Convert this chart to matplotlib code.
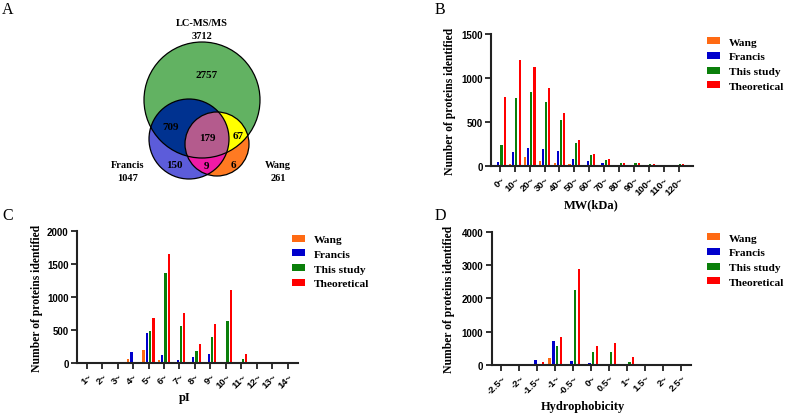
import numpy as np
import matplotlib
matplotlib.use("Agg")
from matplotlib import pyplot as plt
from matplotlib.patches import Circle, Polygon

# ---- data ----
names = ["Wang", "Francis", "This study", "Theoretical"]
colors = ["#FF6A13", "#0000CC", "#0A7F0A", "#FF0000"]

mw_labels = ["0~", "10~", "20~", "30~", "40~", "50~", "60~", "70~", "80~", "90~", "100~", "110~", "120~"]
mw_wang = [0, 30, 102, 60, 34, 26, 11, 0, 0, 0, 0, 0, 0]
mw_francis = [45, 158, 204, 200, 170, 83, 57, 32, 18, 14, 8, 0, 18]
mw_this = [241, 773, 837, 724, 520, 268, 128, 75, 40, 32, 25, 0, 30]
mw_theo = [785, 1203, 1128, 890, 604, 302, 140, 80, 40, 35, 25, 0, 30]

pi_labels = ["1~", "2~", "3~", "4~", "5~", "6~", "7~", "8~", "9~", "10~", "11~", "12~", "13~", "14~"]
pi_wang = [0, 0, 0, 65, 191, 45, 0, 0, 0, 0, 0, 0, 0, 0]
pi_francis = [0, 0, 0, 170, 457, 121, 50, 85, 141, 15, 0, 0, 0, 0]
pi_this = [0, 0, 0, 0, 487, 1357, 563, 186, 397, 638, 60, 0, 0, 0]
pi_theo = [0, 0, 0, 20, 678, 1658, 759, 291, 593, 1106, 136, 10, 0, 0]

hy_labels = ["-2.5~", "-2~", "-1.5~", "-1~", "-0.5~", "0~", "0.5~", "1~", "1.5~", "2~", "2.5~"]
hy_wang = [0, 0, 0, 190, 20, 0, 0, 0, 0, 0, 0]
hy_francis = [0, 0, 150, 700, 110, 40, 0, 0, 0, 0, 0]
hy_this = [0, 0, 20, 560, 2260, 370, 380, 80, 0, 0, 0]
hy_theo = [0, 0, 80, 840, 2870, 560, 640, 220, 0, 0, 0]

venn_counts = {"LC": 2757, "LC_F": 709, "all": 179, "LC_W": 67, "F": 150, "F_W": 9, "W": 6}
venn_totals = {"LC-MS/MS": 3712, "Francis": 1047, "Wang": 261}

SERIF = "Liberation Serif"
SANS = "Liberation Sans"
W, H = 787, 414

fig = plt.figure(figsize=(7.87, 4.14), dpi=100)

# overlay axes in pixel units (venn, panel letters, axis titles)
ov = fig.add_axes([0, 0, 1, 1])
ov.set_xlim(0, W)
ov.set_ylim(H, 0)
ov.axis("off")


def box(l, t, r, b):
    return [l / W, 1 - b / H, (r - l) / W, (b - t) / H]


# ---- venn ----
cg = (202, 101, 58)
cf = (189, 140, 40)
cw = (217, 145, 32)


def circ(c, **kw):
    return Circle((c[0], c[1]), c[2], **kw)


def inside(p, c):
    return np.hypot(p[:, 0] - c[0], p[:, 1] - c[1]) <= c[2] + 1e-6


def triple(cs):
    t = np.linspace(0, 2 * np.pi, 1440)
    pts = []
    for i, c in enumerate(cs):
        p = np.column_stack([c[0] + c[2] * np.cos(t), c[1] + c[2] * np.sin(t)])
        keep = np.ones(len(p), bool)
        for j, o in enumerate(cs):
            if j != i:
                keep &= inside(p, o)
        pts.append(p[keep])
    pts = np.vstack(pts)
    m = pts.mean(axis=0)
    ang = np.arctan2(pts[:, 1] - m[1], pts[:, 0] - m[0])
    return pts[np.argsort(ang)]


ov.add_patch(circ(cg, fc="#62B262", ec="none", zorder=1))
ov.add_patch(circ(cf, fc="#5C5CDA", ec="none", zorder=1))
ov.add_patch(circ(cw, fc="#FF7A22", ec="none", zorder=1))
p = circ(cf, fc="#F01AA6", ec="none", zorder=2)
ov.add_patch(p)
p.set_clip_path(circ(cw, transform=ov.transData))
p = circ(cf, fc="#003290", ec="none", zorder=3)
ov.add_patch(p)
p.set_clip_path(circ(cg, transform=ov.transData))
p = circ(cw, fc="#FFFF00", ec="none", zorder=3)
ov.add_patch(p)
p.set_clip_path(circ(cg, transform=ov.transData))
ov.add_patch(Polygon(triple([cg, cf, cw]), closed=True, fc="#B45B8D", ec="none", zorder=4))
for c in (cg, cf, cw):
    ov.add_patch(circ(c, fc="none", ec="black", lw=0.9, zorder=5))

num_pos = {"LC": (207, 76), "LC_F": (171, 128), "all": (207, 139), "LC_W": (238, 137),
           "F": (174, 166), "F_W": (207, 166.5), "W": (233, 166)}
for k, (x, y) in num_pos.items():
    ov.text(x, y, str(venn_counts[k]), family=SERIF, weight="bold", fontsize=8,
            ha="center", va="center", zorder=6)
tot_pos = {"LC-MS/MS": (202, 24), "Francis": (128, 166), "Wang": (278, 166)}
for k, (x, y) in tot_pos.items():
    ov.text(x, y, k, family=SERIF, weight="bold", fontsize=7.5, ha="center", va="center")
    ov.text(x, y + 12.5, str(venn_totals[k]), family=SERIF, weight="bold", fontsize=7.5,
            ha="center", va="center")

# panel letters
for lab, x, y in [("A", 8, 10), ("B", 440, 10), ("C", 8, 216), ("D", 440, 216)]:
    ov.text(x, y, lab, family=SERIF, fontsize=11.5, ha="center", va="center")


# ---- bar panels ----
def bar_panel(rect, labels, series, ymax, ystep, xlim, ylab_x, xlab, xlab_pos, leg_pos):
    ax = fig.add_axes(rect)
    x = np.arange(len(labels))
    pitch = 0.215
    for i, vals in enumerate(series):
        ax.bar(x + (i - 1.5) * pitch, vals, 0.145, color=colors[i], label=names[i], zorder=2)
    ax.set_xlim(*xlim)
    ax.set_ylim(0, ymax)
    ax.set_yticks(np.arange(0, ymax + 1, ystep))
    ax.set_xticks(x)
    ax.set_xticklabels(labels, rotation=45, ha="right", va="top", rotation_mode="anchor",
                       family=SANS, weight="bold", fontsize=6.8)
    for t in ax.get_yticklabels():
        t.set_family(SANS)
        t.set_weight("bold")
        t.set_fontsize(7)
    for s in ("top", "right"):
        ax.spines[s].set_visible(False)
    for s in ("left", "bottom"):
        ax.spines[s].set_linewidth(1.5)
        ax.spines[s].set_color("#222222")
    ax.tick_params(direction="out", length=4, width=1.3, color="#222222", pad=2)
    ax.patch.set_alpha(0)
    ax.set_ylabel("Number of proteins identified", family=SERIF, weight="bold", fontsize=8.4)
    ax.yaxis.set_label_coords(ylab_x, 0.5)
    ov.text(xlab_pos[0], xlab_pos[1], xlab, family=SERIF, weight="bold", fontsize=9,
            ha="center", va="center")
    ax.legend(loc="upper left", bbox_to_anchor=(leg_pos[0] / W, 1 - leg_pos[1] / H),
              bbox_transform=fig.transFigure, frameon=False,
              prop={"family": SERIF, "weight": "bold", "size": 8.2},
              handlelength=1.17, handleheight=0.6, handletextpad=0.75,
              labelspacing=0.45, borderpad=0, borderaxespad=0)
    return ax


bar_panel(box(491, 34.7, 692.7, 167.3), mw_labels, [mw_wang, mw_francis, mw_this, mw_theo],
          1500, 500, (-0.6, 12.95), -0.1735, "MW(kDa)", (590.7, 205), (706.7, 38))
bar_panel(box(77, 232, 297.7, 364), pi_labels, [pi_wang, pi_francis, pi_this, pi_theo],
          2000, 500, (-0.63, 13.66), -0.153, "pI", (185, 398), (291.7, 235.5))
bar_panel(box(491.5, 233, 691, 365.7), hy_labels, [hy_wang, hy_francis, hy_this, hy_theo],
          4000, 1000, (-0.54, 10.54), -0.183, "Hydrophobicity", (583, 406.7), (706.7, 234))

fig.savefig("out.png", dpi=100)
